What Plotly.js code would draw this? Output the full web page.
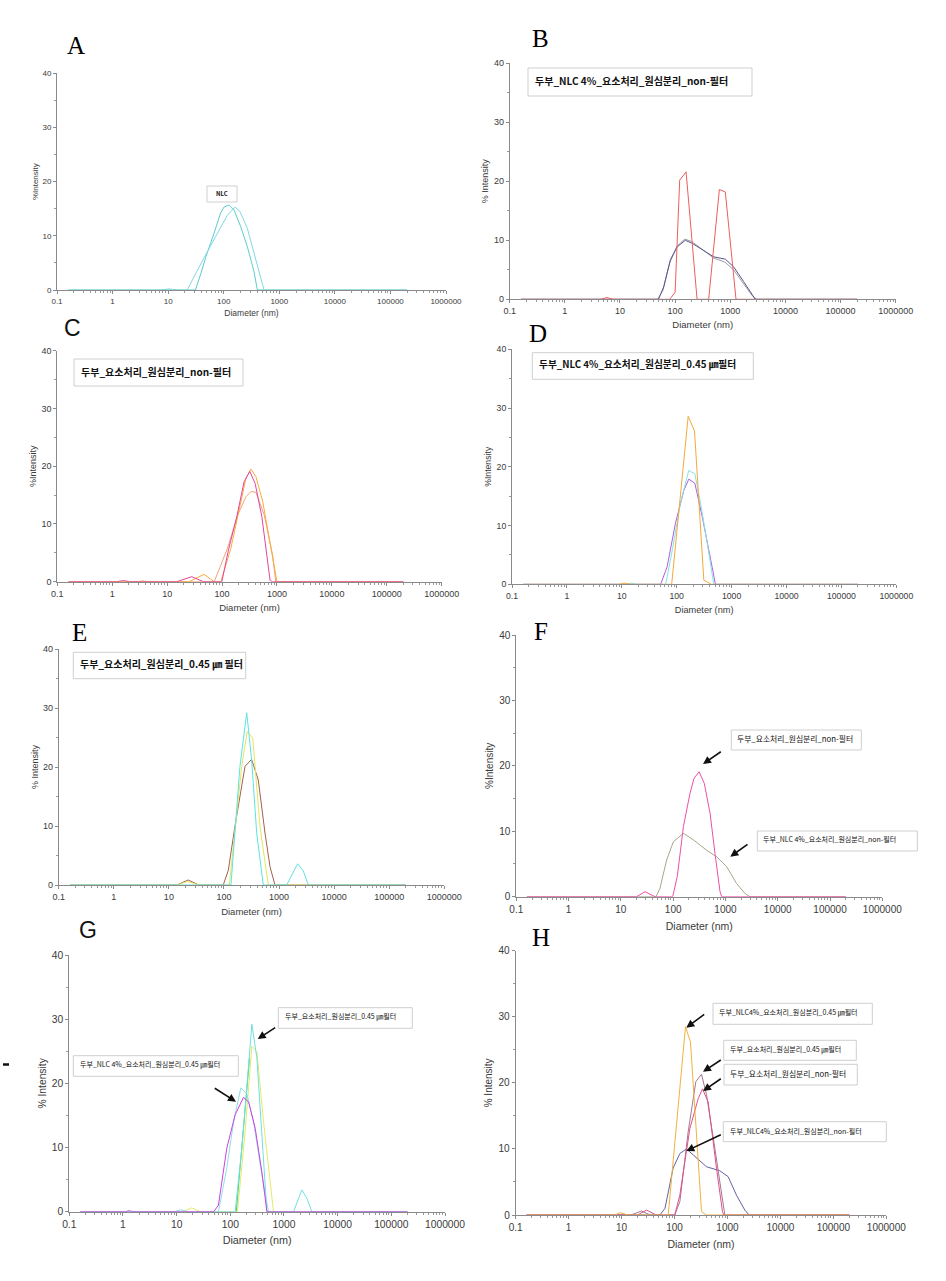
<!DOCTYPE html>
<html><head><meta charset="utf-8">
<script src="https://cdn.plot.ly/plotly-3.0.1.min.js"></script>
<style>html,body{margin:0;padding:0;background:#fff}#chart{width:946px;height:1281px}</style>
</head><body><div id="chart"></div>
<script>
// ---------------- tick labels ----------------
const xTickVals = [0.1, 1, 10, 100, 1000, 10000, 100000, 1000000];
const xTickText = ["0.1", "1", "10", "100", "1000", "10000", "100000", "1000000"];
const yTickVals = [0, 10, 20, 30, 40];
const panelLetters = ["A", "B", "C", "D", "E", "F", "G", "H"];
const xTitle = "Diameter (nm)";

// ---------------- data: diameter (nm) / % intensity ----------------
// A : NLC
const A1_d = [0.16, 31, 39, 48, 67, 88, 101, 125, 153, 202, 266, 351, 403, 200000];
const A1_i = [0, 0, 3.1, 6.2, 10.5, 14.2, 15.3, 15.7, 14.8, 11.7, 8.0, 3.4, 0, 0];
const A2_d = [0.16, 7.4, 10.4, 14.7, 22, 29, 39, 51, 77, 116, 160, 196, 266, 351, 462, 531, 200000];
const A2_i = [0, 0, 0.2, 0, 0, 2.5, 4.9, 7.1, 10.5, 13.8, 15.3, 14.5, 11.4, 6.8, 1.8, 0, 0];
// B : 두부_NLC 4%_요소처리_원심분리_non-필터
const B1_d = [0.16, 50, 62, 82, 109, 153, 203, 308, 500, 813, 1151, 1746, 2404, 2838, 200000];
const B1_i = [0, 0, 2.1, 6.7, 8.9, 10.0, 9.5, 8.4, 7.2, 6.8, 5.5, 3.0, 1.0, 0, 0];
const B2_d = [0.16, 48, 60, 80, 108, 150, 200, 300, 500, 800, 1150, 1750, 2500, 3000, 200000];
const B2_i = [0, 0, 1.5, 6.2, 9.0, 10.2, 9.8, 8.5, 7.0, 6.3, 5.0, 2.6, 0.6, 0, 0];
const B3_d = [0.16, 4.5, 5.8, 7.5, 80, 100, 121, 158, 250, 406, 634, 813, 1270, 200000];
const B3_i = [0, 0, 0.3, 0, 0, 1.2, 20.2, 21.6, 0, 0, 18.6, 18.2, 0, 0];
// C : 두부_요소처리_원심분리_non-필터
const C1_d = [0.16, 1.2, 1.6, 2.1, 15, 28, 46, 99, 131, 186, 252, 320, 401, 530, 750, 830, 200000];
const C1_i = [0, 0, 0.2, 0, 0, 0.87, 0, 0, 5.5, 11.3, 17.3, 19.1, 17.0, 11.3, 0.2, 0, 0];
const C2_d = [0.16, 3, 3.6, 4.3, 25, 47, 72, 95, 145, 204, 272, 336, 414, 550, 776, 1000, 200000];
const C2_i = [0, 0, 0.15, 0, 0, 1.27, 0, 0, 5.8, 12.7, 17.9, 19.5, 18.2, 13.9, 6.3, 0, 0];
const C3_d = [0.16, 72, 126, 192, 272, 336, 414, 589, 832, 950, 200000];
const C3_i = [0, 0, 5.8, 11.5, 14.7, 15.6, 15.5, 11.5, 4.6, 0, 0];
// D : 두부_NLC 4%_요소처리_원심분리_0.45 ㎛필터
const D1_d = [0.16, 9, 11, 15, 81, 162, 211, 312, 427, 200000];
const D1_i = [0, 0, 0.2, 0, 0, 28.6, 26.1, 0.7, 0, 0];
const D2_d = [0.16, 12, 15, 19, 63, 83, 117, 166, 214, 272, 360, 474, 200000];
const D2_i = [0, 0, 0.2, 0, 0, 5.8, 13.8, 19.4, 18.8, 13.8, 7.0, 0, 0];
const D3_d = [0.16, 1.1, 1.3, 1.6, 51, 67, 95, 135, 166, 214, 292, 385, 508, 200000];
const D3_i = [0, 0, 0.1, 0, 0, 3.0, 10.4, 16.0, 17.9, 17.2, 11.5, 5.8, 0, 0];
// E : 두부_요소처리_원심분리_0.45 ㎛ 필터
const E1_d = [0.16, 134, 195, 259, 318, 393, 518, 1377, 2178, 2754, 3396, 200000];
const E1_i = [0, 0, 20.1, 29.2, 21.2, 8.8, 0, 0, 3.6, 2.4, 0, 0];
const E2_d = [0.16, 14, 22, 35, 125, 158, 210, 265, 333, 451, 638, 200000];
const E2_i = [0, 0, 0.6, 0, 0, 8.8, 20.1, 26.0, 24.9, 9.9, 0, 0];
const E3_d = [0.16, 14, 22.5, 35, 97, 120, 158, 241, 318, 420, 556, 686, 843, 200000];
const E3_i = [0, 0, 0.85, 0, 0, 2.5, 9.9, 20.1, 21.3, 17.8, 8.8, 3.1, 0, 0];
// F : comparison non-필터
const F1_d = [0.16, 20, 29, 45, 98, 120, 157, 210, 251, 313, 395, 507, 631, 787, 846, 200000];
const F1_i = [0, 0, 0.77, 0, 0, 3.1, 10.7, 15.8, 18.1, 19.1, 17.3, 12.8, 6.6, 0.8, 0, 0];
const F2_d = [0.16, 47, 56, 75, 101, 157, 243, 437, 679, 1054, 1637, 2360, 2944, 200000];
const F2_i = [0, 0, 1.3, 5.6, 8.4, 9.7, 8.7, 7.1, 6.1, 4.6, 2.0, 0.5, 0, 0];
// G : comparison 0.45 ㎛ 필터
const G1_d = [0.16, 1.1, 1.3, 1.6, 49, 60, 86, 123, 176, 219, 291, 387, 480, 200000];
const G1_i = [0, 0, 0.15, 0, 0, 1.0, 9.9, 15.1, 17.8, 17.1, 13.0, 6.2, 0, 0];
const G2_d = [0.16, 9, 12, 16, 60, 86, 115, 157, 203, 271, 387, 515, 200000];
const G2_i = [0, 0, 0.3, 0, 0, 6.8, 14.0, 19.3, 18.4, 14.0, 5.7, 0, 0];
const G3_d = [0.16, 123, 164, 209, 252, 313, 387, 480, 1507, 2154, 2668, 3304, 200000];
const G3_i = [0, 0, 9.9, 20.3, 29.2, 23.9, 12.5, 0, 0, 3.4, 2.1, 0, 0];
const G4_d = [0.16, 13, 19, 28, 136, 189, 252, 313, 416, 553, 638, 200000];
const G4_i = [0, 0, 0.6, 0, 0, 12.5, 25.8, 24.9, 14.0, 4.7, 0, 0];
const G5_d = [129, 153, 189, 228];
const G5_i = [0, 7.3, 15.0, 23.9];
// H : all four samples
const H1_d = [0.16, 7.5, 9.3, 13.4, 76, 161, 200, 323, 402, 200000];
const H1_i = [0, 0, 0.35, 0, 0, 28.5, 26.2, 0.5, 0, 0];
const H2_d = [0.16, 15, 23.8, 35, 101, 126, 181, 253, 323, 402, 577, 771, 891, 200000];
const H2_i = [0, 0, 0.6, 0, 0, 2.0, 12.6, 20.2, 21.3, 18.2, 10.1, 3.0, 0, 0];
const H3_d = [0.16, 20, 29.6, 45, 101, 126, 195, 280, 338, 432, 620, 805, 853, 200000];
const H3_i = [0, 0, 0.75, 0, 0, 3.0, 13.1, 17.6, 19.1, 17.1, 7.1, 0.5, 0, 0];
const H4_d = [0.16, 53, 66, 94, 126, 168, 225, 402, 716, 1030, 1479, 2123, 2564, 200000];
const H4_i = [0, 0, 1.0, 7.1, 9.3, 10.0, 9.1, 7.3, 6.7, 5.8, 3.0, 0.75, 0, 0];

// ---------------- label texts ----------------
const boxLabels = [
  "NLC",
  "두부_NLC 4%_요소처리_원심분리_non-필터",
  "두부_요소처리_원심분리_non-필터",
  "두부_NLC 4%_요소처리_원심분리_0.45 ㎛필터",
  "두부_요소처리_원심분리_0.45 ㎛ 필터"
];
const calloutLabels = [
  "두부_요소처리_원심분리_non-필터",
  "두부_NLC 4%_요소처리_원심분리_non-필터",
  "두부_요소처리_원심분리_0.45 ㎛필터",
  "두부_NLC 4%_요소처리_원심분리_0.45 ㎛필터",
  "두부_NLC4%_요소처리_원심분리_0.45 ㎛필터",
  "두부_요소처리_원심분리_0.45 ㎛필터",
  "두부_요소처리_원심분리_non-필터",
  "두부_NLC4%_요소처리_원심분리_non-필터"
];

// ---------------- layout helpers (pixel → paper) ----------------
const W = 946, H = 1281;
const PX = x => x / W, PY = y => 1 - y / H;
const FONT = "Liberation Sans, Arial, sans-serif";
const KFONT = "Noto Sans CJK KR, sans-serif";

// plot-area boxes [left, top, right, bottom] in px
const panels = [
  {box: [57, 73.3, 446, 290],        fs: 8,   yt: "%Intensity",  ys: 2,   xs: 5, letter: [76, 45, "serif"]},
  {box: [509.7, 63.3, 895.7, 299.3], fs: 9,   yt: "% Intensity", ys: 3,   xs: 6, letter: [540, 38.5, "serif"]},
  {box: [57.3, 350.7, 441.7, 581.7], fs: 9,   yt: "%Intensity",  ys: 2.5, xs: 6, letter: [72, 327.7, "sans"]},
  {box: [512, 349.3, 896.3, 584.3],  fs: 8.7, yt: "%Intensity",  ys: 3,   xs: 6, letter: [538, 333, "serif"]},
  {box: [58.7, 649, 444.3, 885],     fs: 9,   yt: "% Intensity", ys: 2,   xs: 7, letter: [79, 632.5, "serif"]},
  {box: [516.3, 635, 882.3, 896.7],  fs: 10,  yt: "%Intensity",  ys: 3,   xs: 8, letter: [541, 631.5, "serif"]},
  {box: [69.3, 955, 445, 1211.7],    fs: 10.3,yt: "% Intensity", ys: 3,   xs: 7, letter: [88.3, 930, "sans"]},
  {box: [515.7, 950.7, 886.3, 1215], fs: 10,  yt: "% Intensity", ys: 3.5, xs: 8, letter: [541.3, 937, "serif"]}
];

// x minor tick positions (log decades)
const xMinor = [];
for (let e = -1; e < 6; e++) for (let m = 2; m <= 9; m++) xMinor.push(m * Math.pow(10, e));

// ---------------- traces ----------------
const series = [
  [0, A1_d, A1_i, "#5ccccc"], [0, A2_d, A2_i, "#82d8e2"],
  [1, B2_d, B2_i, "#9c9ca4"], [1, B1_d, B1_i, "#55578a"], [1, B3_d, B3_i, "#f05c5c"],
  [2, C3_d, C3_i, "#f4a07c"], [2, C2_d, C2_i, "#f6ac3a"], [2, C1_d, C1_i, "#e4449c"],
  [3, D3_d, D3_i, "#b05ce6"], [3, D2_d, D2_i, "#86e2e2"], [3, D1_d, D1_i, "#f5a83e"],
  [4, E3_d, E3_i, "#a2604e"], [4, E2_d, E2_i, "#e4e45e"], [4, E1_d, E1_i, "#5ee2e2"],
  [5, F2_d, F2_i, "#a6a68c"], [5, F1_d, F1_i, "#ee4fa6"],
  [6, G4_d, G4_i, "#e6e86a"], [6, G5_d, G5_i, "#44d070"], [6, G3_d, G3_i, "#6ee0e0"],
  [6, G2_d, G2_i, "#8ee0e6"], [6, G1_d, G1_i, "#d03ee2"],
  [7, H4_d, H4_i, "#6262a2"], [7, H2_d, H2_i, "#a07890"], [7, H3_d, H3_i, "#e0508c"], [7, H1_d, H1_i, "#f2b040"]
];
const traces = series.map(([p, d, i, c]) => ({
  type: "scatter", mode: "lines", x: d, y: i,
  xaxis: "x" + (p + 1), yaxis: "y" + (p + 1),
  line: {color: c, width: 1}, hoverinfo: "skip"
}));

// ---------------- layout ----------------
const layout = {
  width: W, height: H, margin: {l: 0, r: 0, t: 0, b: 0},
  paper_bgcolor: "#fff", plot_bgcolor: "rgba(0,0,0,0)",
  showlegend: false, shapes: [], annotations: []
};
panels.forEach((p, k) => {
  const n = k + 1;
  const [l, t, r, b] = p.box;
  const tickfont = {family: FONT, size: p.fs, color: "#3a3a3a"};
  layout["xaxis" + n] = {
    type: "log", range: [-1, 6], domain: [PX(l), PX(r)], anchor: "y" + n,
    tickmode: "array", tickvals: xTickVals, ticktext: xTickText,
    showline: true, linecolor: "#8a8a8a", linewidth: 1,
    ticks: "outside", ticklen: 3, tickcolor: "#8a8a8a",
    minor: {tickmode: "array", tickvals: xMinor, ticks: "outside", ticklen: 2, tickcolor: "#999"},
    showgrid: false, zeroline: false, tickfont: tickfont,
    title: {text: xTitle, font: {family: FONT, size: p.fs + 0.5, color: "#3a3a3a"}, standoff: p.xs}
  };
  layout["yaxis" + n] = {
    range: [0, 40], domain: [PY(b), PY(t)], anchor: "x" + n,
    tickmode: "array", tickvals: yTickVals,
    showline: true, linecolor: "#8a8a8a", linewidth: 1,
    ticks: "outside", ticklen: 3, tickcolor: "#8a8a8a",
    minor: {dtick: 5, tick0: 0, ticks: "outside", ticklen: 2, tickcolor: "#999"},
    showgrid: false, zeroline: false, tickfont: tickfont,
    title: {text: p.yt, font: {family: FONT, size: p.fs, color: "#3a3a3a"}, standoff: p.ys}
  };
  const [lx, ly, lf] = p.letter;
  layout.annotations.push({
    xref: "paper", yref: "paper", x: PX(lx), y: PY(ly), xanchor: "center", yanchor: "middle",
    text: panelLetters[k], showarrow: false,
    font: lf === "serif" ? {family: "Liberation Serif, serif", size: 25, color: "#000"}
                         : {family: FONT, size: 23, color: "#111"}
  });
});

// boxed labels
function addBox(box, tx, ty, text, size, bold, centered) {
  const [l, t, r, b] = box;
  layout.shapes.push({type: "rect", xref: "paper", yref: "paper",
    x0: PX(l), x1: PX(r), y0: PY(b), y1: PY(t),
    line: {color: "#cfcfcf", width: 1}, fillcolor: "#fff", layer: "above"});
  layout.annotations.push({xref: "paper", yref: "paper", x: PX(tx), y: PY(ty),
    xanchor: centered ? "center" : "left", yanchor: "middle", showarrow: false,
    text: bold ? "<b>" + text + "</b>" : text,
    font: {family: KFONT, size: size, color: "#111"}});
}
function addArrow(hx, hy, tx, ty) {
  layout.annotations.push({xref: "paper", yref: "paper", x: PX(hx), y: PY(hy),
    ax: tx - hx, ay: ty - hy, text: "", showarrow: true,
    arrowhead: 2, arrowsize: 1, arrowwidth: 1.6, arrowcolor: "#111", standoff: 0});
}
addBox([207, 186, 237, 202], 222, 193.5, boxLabels[0], 6, true, true);
addBox([528, 68, 752, 96], 533, 80.5, boxLabels[1], 10, true);
addBox([74, 359, 243, 386], 79, 371, boxLabels[2], 10, true);
addBox([532.3, 352.7, 753.3, 379.3], 537, 363.5, boxLabels[3], 9.7, true);
addBox([73.3, 652.3, 245.7, 678.7], 78.3, 663, boxLabels[4], 10, true);
// F
addBox([731.3, 730, 861.3, 750], 735.3, 738, calloutLabels[0], 7.8, false);
addBox([757.3, 831, 917.3, 851], 761.3, 839.5, calloutLabels[1], 7, false);
addArrow(703, 764, 722.3, 750.7);
addArrow(730.3, 856.7, 749, 843.3);
// G
addBox([278.3, 1007.7, 412.3, 1028.3], 282.7, 1016, calloutLabels[2], 7, false);
addBox([73.3, 1055.7, 238.3, 1076.3], 77.7, 1064.5, calloutLabels[3], 7, false);
addArrow(257.7, 1039, 276.7, 1026.7);
addArrow(236, 1101.7, 213.3, 1087.3);
layout.shapes.push({type: "line", xref: "paper", yref: "paper",
  x0: PX(3), x1: PX(9), y0: PY(1064.5), y1: PY(1064.5), line: {color: "#111", width: 2.5}});
// H
addBox([713, 1003.3, 872.3, 1024.3], 717.3, 1012.5, calloutLabels[4], 7, false);
addBox([723.7, 1040.3, 856.3, 1060.3], 728, 1049, calloutLabels[5], 7, false);
addBox([724, 1064.3, 857.3, 1085], 728, 1073, calloutLabels[6], 7.8, false);
addBox([723.3, 1121.7, 886.3, 1141.7], 728, 1130.5, calloutLabels[7], 7, false);
addArrow(686.3, 1027.7, 705.7, 1013.3);
addArrow(703, 1071.7, 722.3, 1059);
addArrow(703, 1091, 722.3, 1077.7);
addArrow(686.3, 1151, 722.3, 1134);

Plotly.newPlot("chart", traces, layout, {staticPlot: true, displayModeBar: false});
</script>
</body></html>
